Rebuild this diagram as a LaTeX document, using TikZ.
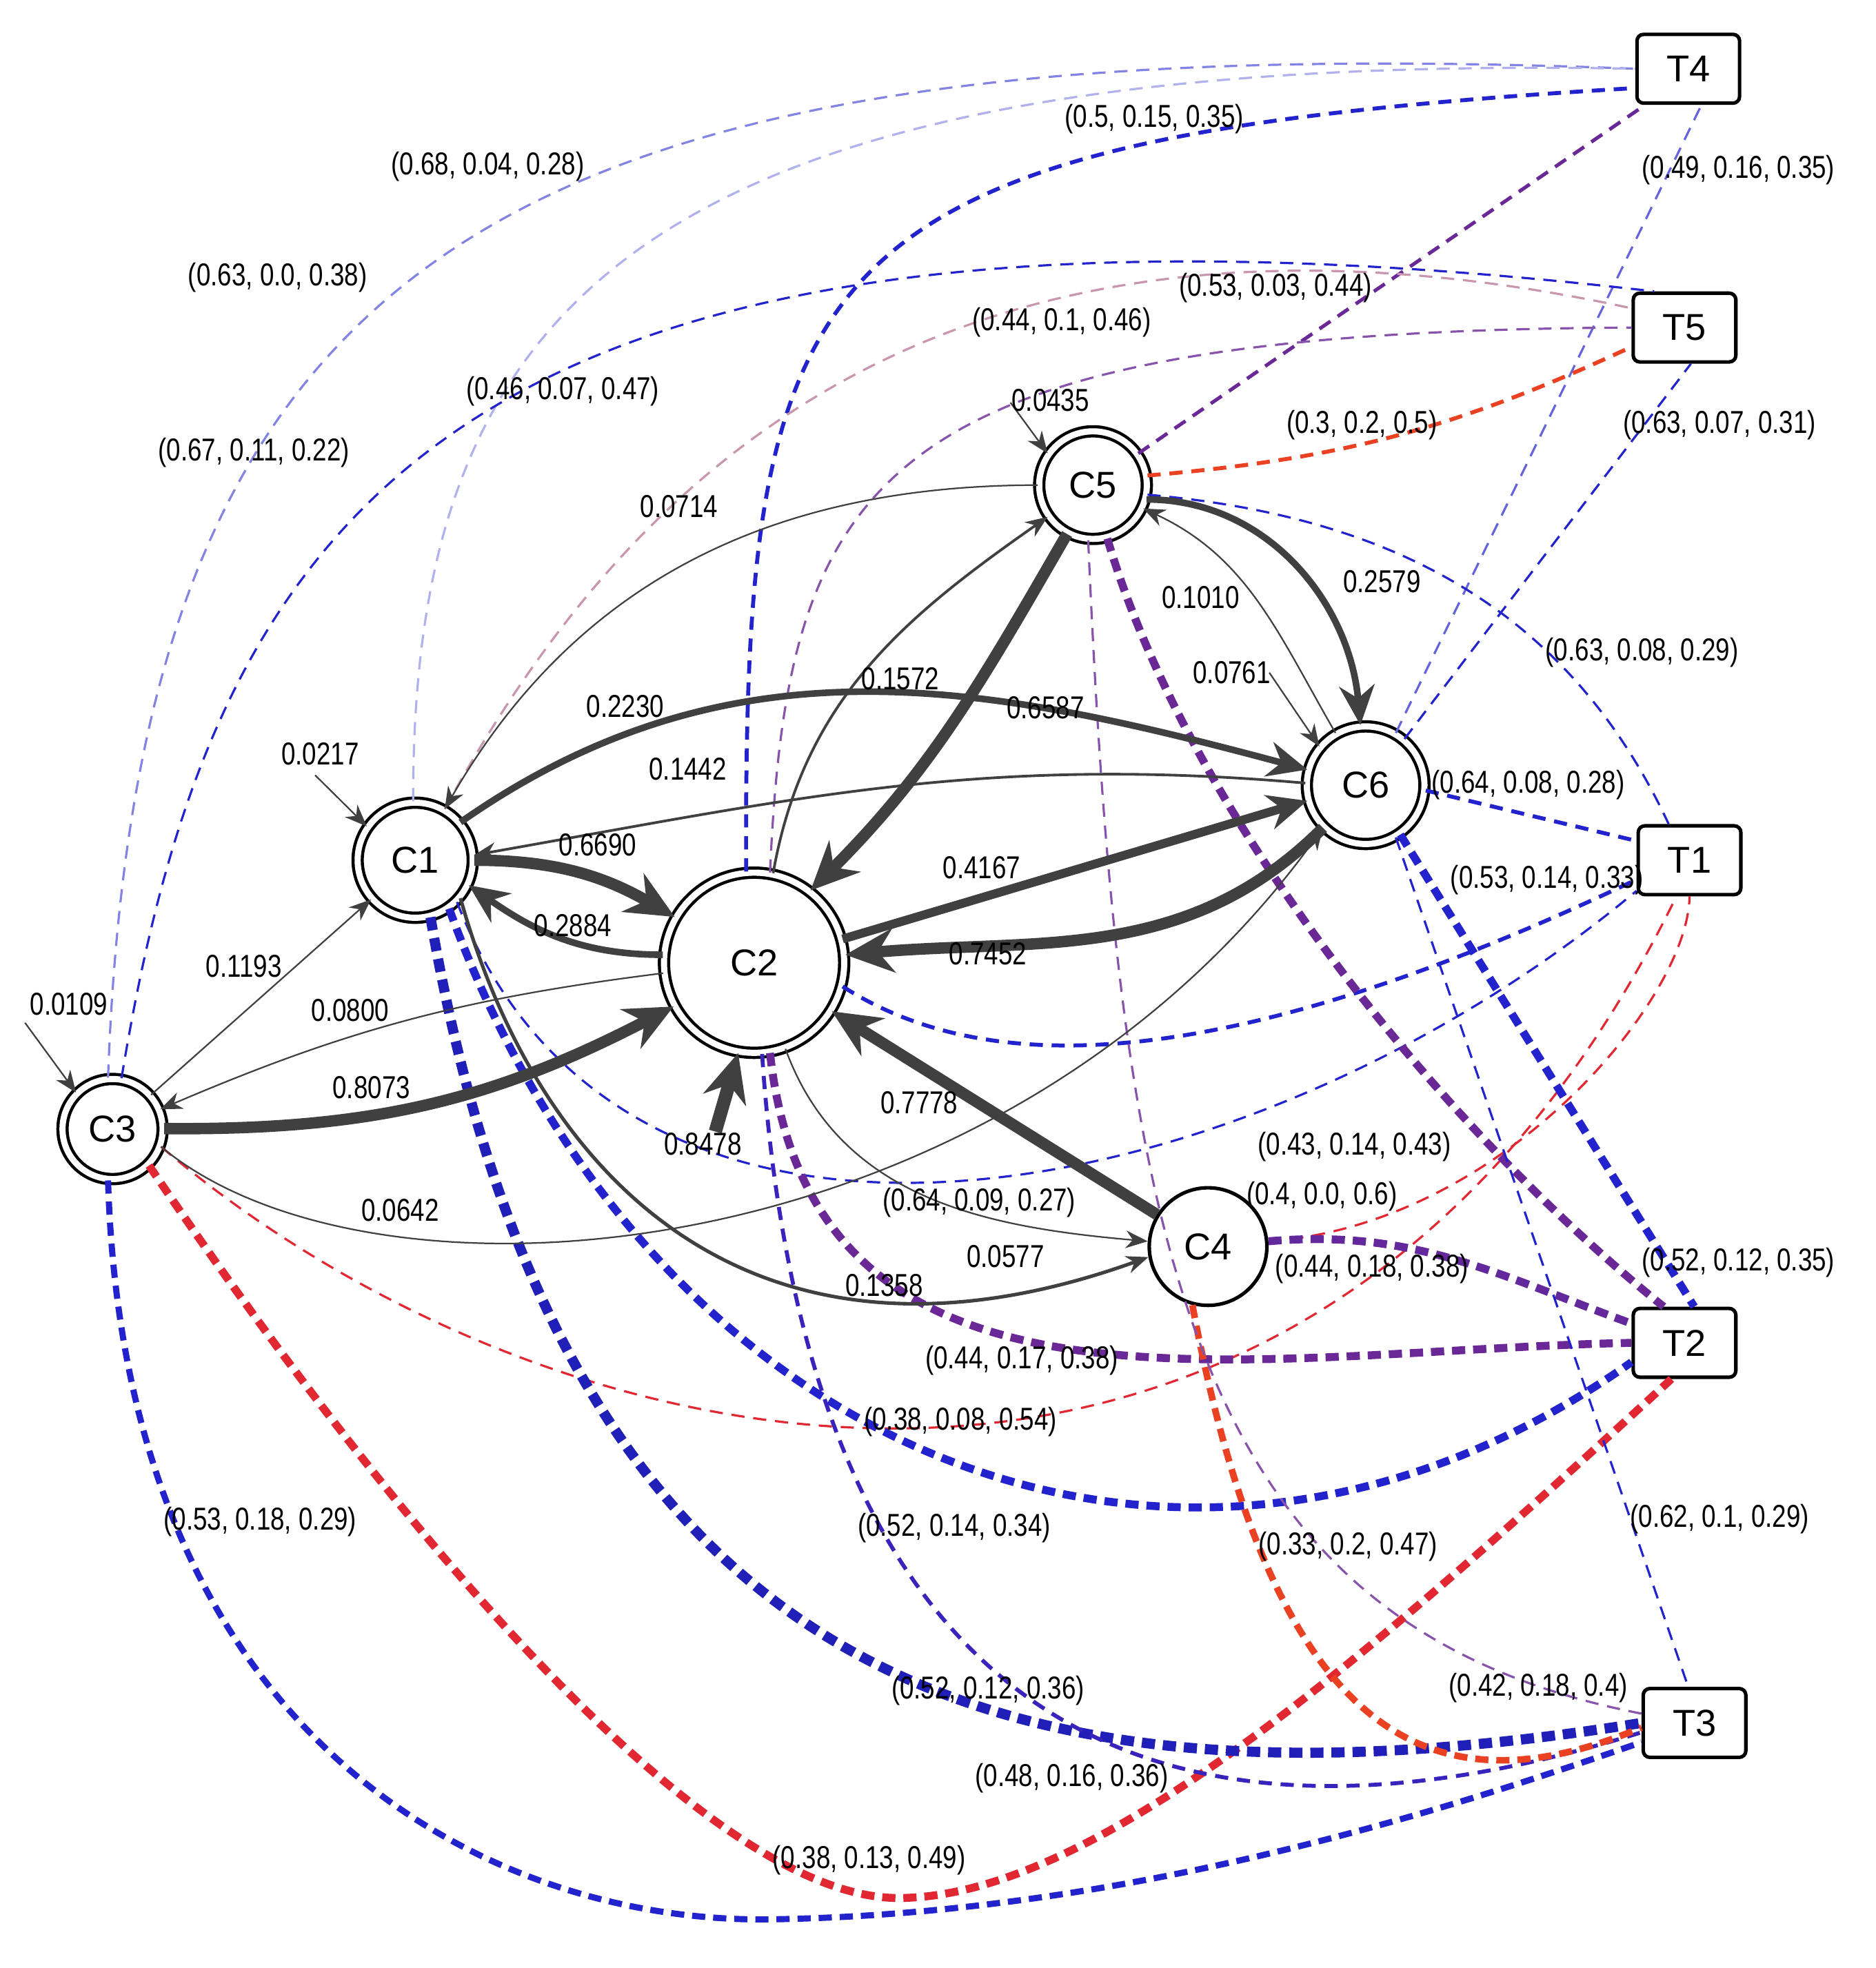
\documentclass[tikz,border=0pt]{standalone}
\usepackage{fontspec}
\setmainfont{Liberation Sans}[FakeStretch=0.8]
\newfontfamily\nfont{Liberation Sans}
\usetikzlibrary{arrows.meta}
\definecolor{bl}{RGB}{35,35,205}
\definecolor{bll}{RGB}{100,100,220}
\definecolor{rd}{RGB}{225,40,50}
\definecolor{pu}{RGB}{105,40,150}
\definecolor{pk}{RGB}{200,150,175}
\definecolor{orr}{RGB}{235,65,35}
\definecolor{ed}{RGB}{64,64,64}
\tikzset{
 cn/.style={circle,draw,double,double distance=1.4pt,line width=0.7pt,font=\nfont\fontsize{8.5}{10}\selectfont,inner sep=0pt},
 tn/.style={rectangle,rounded corners=1.5pt,draw,line width=0.8pt,minimum width=0.82cm,minimum height=0.55cm,font=\nfont\fontsize{8.5}{10}\selectfont},
 lab/.style={font=\fontsize{7.2}{8}\selectfont,inner sep=0.5pt},
 e0/.style={draw=ed,line width=0.35pt,-{Stealth[length=5pt,width=4pt]}},
 e1/.style={draw=ed,line width=0.9pt,-{Stealth[length=7pt,width=6pt]}},
 e2/.style={draw=ed,line width=1.5pt,-{Stealth[length=9pt,width=8pt]}},
 e3/.style={draw=ed,line width=2.6pt,-{Stealth[length=11pt,width=10pt]}},
 d0/.style={line width=0.5pt,dash pattern=on 3pt off 2pt},
 d1/.style={line width=0.9pt,dash pattern=on 3pt off 2pt},
 d2/.style={line width=1.8pt,dash pattern=on 3pt off 1.8pt},
}
\begin{document}
\begin{tikzpicture}[x=0.01cm,y=0.01cm]
\useasboundingbox (0,0) rectangle (1500,-1574);
% nodes
\node[cn,minimum size=0.92cm] (C1) at (332,-688) {C1};
\node[cn,minimum size=1.44cm] (C2) at (603,-770) {C2};
\node[cn,minimum size=0.8cm] (C3) at (90,-903) {C3};
\node[circle,draw,line width=0.8pt,minimum size=0.94cm,inner sep=0pt,font=\nfont\fontsize{8.5}{10}\selectfont] (C4) at (966,-997) {C4};
\node[cn,minimum size=0.86cm] (C5) at (874,-388) {C5};
\node[cn,minimum size=0.94cm] (C6) at (1092,-628) {C6};
\node[tn] (T4) at (1350,-55) {T4};
\node[tn] (T5) at (1347,-262) {T5};
\node[tn] (T1) at (1351,-688) {T1};
\node[tn] (T2) at (1347,-1074) {T2};
\node[tn] (T3) at (1355,-1378) {T3};
% dashed T edges
\draw[d0,bll!80] (C3.95) .. controls (110,-200) and (400,-20) .. (T4.west);
\draw[d0,bll!50] (C1.92) .. controls (330,-250) and (500,-40) .. (T4.west);
\draw[d1,bl] (C2.95) .. controls (595,-200) and (640,-110) .. (T4.200);
\draw[d0,pu,line width=0.8pt] (C5.35) -- (T4.220);
\draw[d0,bll] (C6.60) -- (T4.290);
\draw[d0,bl] (C3.80) .. controls (170,-420) and (350,-120) .. (T5.130);
\draw[d0,pk] (C1.60) .. controls (480,-420) and (720,-120) .. (T5.160);
\draw[d0,pu!80] (C2.80) .. controls (630,-380) and (700,-265) .. (T5.west);
\draw[d1,orr] (C5.10) to[bend right=10] (T5.200);
\draw[d0,bl] (C6.50) -- (T5.280);
\draw[d0,bl] (C5.-10) to[out=-5,in=115] (T1.120);
\draw[d1,bl] (C6.-5) -- (T1.160);
\draw[d1,bl] (C2.-15) .. controls (800,-870) and (1000,-850) .. (T1.200);
\draw[d0,bl] (C1.-45) .. controls (500,-1070) and (1000,-970) .. (T1.210);
\draw[d0,rd] (C4.5) .. controls (1200,-980) and (1350,-800) .. (T1.south);
\draw[d0,rd] (C3.-20) .. controls (450,-1190) and (1050,-1310) .. (T1.250);
\draw[d2,pu] (C5.-75) .. controls (950,-650) and (1150,-900) .. (T2.120);
\draw[d2,bl] (C6.-55) -- (T2.75);
\draw[d2,pu!90!bl] (C4.5) to[out=5,in=160] (T2.160);
\draw[d2,pu] (C2.-80) .. controls (650,-1160) and (1000,-1080) .. (T2.west);
\draw[d2,bl] (C1.-55) .. controls (520,-1170) and (950,-1340) .. (T2.200);
\draw[d2,rd] (C3.-45) .. controls (300,-1200) and (560,-1520) .. (720,-1518) .. controls (880,-1516) and (1100,-1320) .. (T2.250);
\draw[d2,bl,line width=1.4pt] (C3.-95) .. controls (100,-1400) and (400,-1540) .. (620,-1535) .. controls (900,-1530) and (1150,-1450) .. (T3.200);
\draw[d2,bl!90!black,line width=2.3pt] (C1.-75) .. controls (450,-1350) and (800,-1460) .. (T3.west);
\draw[d1,bl!70!pu] (C2.-85) .. controls (640,-1300) and (850,-1530) .. (T3.190);
\draw[d2,orr,line width=1.5pt] (C4.-105) .. controls (1020,-1400) and (1150,-1450) .. (T3.185);
\draw[d0,pu!80] (C5.-95) .. controls (895,-1000) and (950,-1300) .. (T3.170);
\draw[d0,bl] (C6.-60) -- (T3.100);
% solid edges
\draw[e0] (C3) -- (C1);
\draw[e0] (C2) to[bend right=8] (C3);
\draw[e3] (C3) to[bend right=14] (C2);
\draw[e0] (C3.-20) .. controls (300,-1060) and (800,-1020) .. (C6.225);
\draw[e3] (C1.0) to[out=0,in=150] (C2);
\draw[e2] (C2.175) to[out=180,in=-35] (C1.-25);
\draw[e2] (C1.40) to[out=35,in=165] (C6.165);
\draw[e0,line width=0.6pt] (C6.178) to[out=175,in=10] (C1.5);
\draw[e0] (C5.180) to[out=180,in=60] (C1.60);
\draw[e0,line width=0.6pt] (C2.78) to[out=80,in=215] (C5.215);
\draw[e3] (C5.-118) to[out=-120,in=45] (C2.52);
\draw[e2,line width=2pt] (C2.15) -- (C6.195);
\draw[e3] (C6.225) to[out=225,in=5] (C2.5);
\draw[e3] (C4) -- (C2);
\draw[e0,line width=0.8pt] (C1.-40) .. controls (430,-940) and (600,-1120) .. (C4.190);
\draw[e0] (C2.-70) to[out=-70,in=175] (C4.175);
\draw[e2,line width=1.5pt] (C5.-15) to[out=0,in=95] (C6.95);
\draw[e0] (C6.120) to[out=120,in=-25] (C5.-25);
\coordinate (i2) at (572,-905);
\draw[e3,line width=3pt] (i2) -- (C2.-100);
\coordinate (i6) at (1015,-538);
\draw[e0] (i6) -- (C6.140);
\coordinate (i5) at (808,-322);
\draw[e0] (i5) -- (C5.145);
\coordinate (i1) at (252,-620);
\draw[e0] (i1) -- (C1.145);
\coordinate (i3) at (20,-818);
\draw[e0] (i3) -- (C3.135);
% solid labels
\node[lab] at (195,-773) {0.1193};
\node[lab] at (280,-808) {0.0800};
\node[lab] at (297,-870) {0.8073};
\node[lab] at (320,-968) {0.0642};
\node[lab] at (478,-676) {0.6690};
\node[lab] at (458,-740) {0.2884};
\node[lab] at (500,-565) {0.2230};
\node[lab] at (550,-615) {0.1442};
\node[lab] at (543,-405) {0.0714};
\node[lab] at (720,-543) {0.1572};
\node[lab] at (836,-566) {0.6587};
\node[lab] at (785,-694) {0.4167};
\node[lab] at (790,-763) {0.7452};
\node[lab] at (735,-882) {0.7778};
\node[lab] at (562,-915) {0.8478};
\node[lab] at (707,-1028) {0.1358};
\node[lab] at (804,-1005) {0.0577};
\node[lab] at (1105,-465) {0.2579};
\node[lab] at (960,-478) {0.1010};
\node[lab] at (985,-538) {0.0761};
\node[lab] at (840,-320) {0.0435};
\node[lab] at (256,-603) {0.0217};
\node[lab] at (55,-803) {0.0109};
% dashed labels
\node[lab] at (222,-222) {(0.63, 0.0, 0.38)};
\node[lab] at (390,-133) {(0.68, 0.04, 0.28)};
\node[lab] at (923,-95) {(0.5, 0.15, 0.35)};
\node[lab] at (1020,-230) {(0.53, 0.03, 0.44)};
\node[lab] at (1390,-136) {(0.49, 0.16, 0.35)};
\node[lab] at (203,-362) {(0.67, 0.11, 0.22)};
\node[lab] at (450,-313) {(0.46, 0.07, 0.47)};
\node[lab] at (849,-258) {(0.44, 0.1, 0.46)};
\node[lab] at (1089,-340) {(0.3, 0.2, 0.5)};
\node[lab] at (1375,-340) {(0.63, 0.07, 0.31)};
\node[lab] at (1313,-522) {(0.63, 0.08, 0.29)};
\node[lab] at (1222,-628) {(0.64, 0.08, 0.28)};
\node[lab] at (1237,-704) {(0.53, 0.14, 0.33)};
\node[lab] at (783,-962) {(0.64, 0.09, 0.27)};
\node[lab] at (1057,-957) {(0.4, 0.0, 0.6)};
\node[lab] at (768,-1137) {(0.38, 0.08, 0.54)};
\node[lab] at (1083,-917) {(0.43, 0.14, 0.43)};
\node[lab] at (1390,-1010) {(0.52, 0.12, 0.35)};
\node[lab] at (1097,-1015) {(0.44, 0.18, 0.38)};
\node[lab] at (817,-1088) {(0.44, 0.17, 0.38)};
\node[lab] at (763,-1222) {(0.52, 0.14, 0.34)};
\node[lab] at (695,-1488) {(0.38, 0.13, 0.49)};
\node[lab] at (208,-1217) {(0.53, 0.18, 0.29)};
\node[lab] at (790,-1352) {(0.52, 0.12, 0.36)};
\node[lab] at (857,-1422) {(0.48, 0.16, 0.36)};
\node[lab] at (1078,-1237) {(0.33, 0.2, 0.47)};
\node[lab] at (1230,-1350) {(0.42, 0.18, 0.4)};
\node[lab] at (1375,-1215) {(0.62, 0.1, 0.29)};
\end{tikzpicture}
\end{document}
